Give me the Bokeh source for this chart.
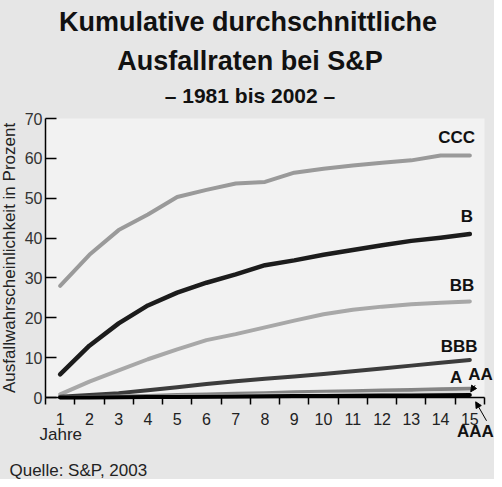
from bokeh.plotting import figure
from bokeh.models import Range1d, FixedTicker, Label, Arrow, NormalHead, BoxAnnotation
from bokeh.embed import file_html
from bokeh.resources import INLINE

# ---- data ----
years = list(range(1, 16))
ccc = [28.0, 35.8, 42.0, 45.9, 50.3, 52.1, 53.7, 54.1, 56.4, 57.4, 58.2, 58.9, 59.5, 60.7, 60.7]
b = [5.8, 13.0, 18.6, 23.1, 26.3, 28.8, 30.9, 33.2, 34.4, 35.8, 37.0, 38.2, 39.3, 40.1, 41.0]
bb = [0.8, 4.0, 6.8, 9.6, 12.1, 14.4, 15.9, 17.6, 19.3, 20.9, 22.0, 22.8, 23.4, 23.8, 24.1]
bbb = [0.2, 0.6, 1.1, 1.8, 2.6, 3.4, 4.1, 4.7, 5.3, 5.9, 6.6, 7.3, 8.0, 8.7, 9.4]
a = [0.05, 0.15, 0.25, 0.4, 0.6, 0.75, 0.95, 1.1, 1.3, 1.45, 1.6, 1.75, 1.9, 2.05, 2.2]
aa = [0.0, 0.05, 0.1, 0.2, 0.3, 0.4, 0.5, 0.6, 0.7, 0.8, 0.9, 1.0, 1.1, 1.25, 1.4]
aaa = [0.0, 0.0, 0.05, 0.1, 0.15, 0.2, 0.25, 0.3, 0.35, 0.4, 0.45, 0.5, 0.5, 0.55, 0.6]
y_ticks = [0, 10, 20, 30, 40, 50, 60, 70]
year_bounds = [0.5 + i for i in range(16)]

title1 = "Kumulative durchschnittliche"
title2 = "Ausfallraten bei S&P"
subtitle = "– 1981 bis 2002 –"
y_label = "Ausfallwahrscheinlichkeit in Prozent"
x_label = "Jahre"
source_note = "Quelle: S&P, 2003"

FONT = "Liberation Sans"
OUTER = "#e6e6e6"
INNER = "#f2f2f2"

# The frame spans the whole canvas; the axes sit at fixed data locations.
p = figure(width=499, height=483, output_backend="svg", toolbar_location=None,
           x_range=Range1d(-1.208, 15.842), y_range=Range1d(-20.57, 100.61),
           min_border=0, background_fill_color=OUTER, border_fill_color=OUTER,
           outline_line_color=None,
           styles={"margin-left": "-5px", "margin-top": "-4px"})
p.grid.visible = False

p.add_layout(BoxAnnotation(left=0.5, right=15.5, bottom=0, top=70, fill_color=INNER,
                           fill_alpha=1, line_color=None, level="underlay"))

# y axis
ya = p.yaxis[0]
ya.fixed_location = 0.5
ya.bounds = (0, 70)
ya.ticker = FixedTicker(ticks=y_ticks)
ya.major_tick_in = 11
ya.major_tick_out = 0
ya.minor_tick_line_color = None
ya.axis_line_width = 1.5
ya.axis_line_color = "black"
ya.major_tick_line_width = 1.5
ya.major_tick_line_color = "black"
ya.major_label_text_font = FONT
ya.major_label_text_font_size = "16px"
ya.major_label_text_color = "#333333"
ya.major_label_standoff = 3
ya.axis_label = y_label
ya.axis_label_text_font = FONT
ya.axis_label_text_font_size = "17px"
ya.axis_label_text_font_style = "normal"
ya.axis_label_text_color = "#222222"
ya.axis_label_standoff = 3

# x axis
xa = p.xaxis[0]
xa.fixed_location = 0
xa.bounds = (0.5, 15.5)
xa.ticker = FixedTicker(ticks=years, minor_ticks=year_bounds)
xa.major_tick_in = 0
xa.major_tick_out = 0
xa.major_tick_line_color = None
xa.minor_tick_in = 0
xa.minor_tick_out = 7
xa.minor_tick_line_color = "black"
xa.minor_tick_line_width = 1.5
xa.axis_line_width = 1.5
xa.axis_line_color = "black"
xa.major_label_text_font = FONT
xa.major_label_text_font_size = "16px"
xa.major_label_text_color = "#222222"
xa.major_label_standoff = 8

# series
series = [
    (ccc, "#9a9a9a", 4),
    (bb, "#a8a8a8", 4),
    (bbb, "#3c3c3c", 4),
    (b, "#1c1c1c", 4.5),
    (a, "#858585", 4),
    (aa, "#dadada", 3),
    (aaa, "#000000", 4),
]
for vals, col, w in series:
    p.line(years, vals, line_color=col, line_width=w, line_cap="round", line_join="round")

# series labels
lab_style = dict(text_font=FONT, text_font_size="17px", text_font_style="bold",
                 text_color="#111111", text_baseline="middle")
for txt, x, y, al in [("CCC", 15.18, 65.2, "right"), ("B", 15.11, 45.4, "right"),
                      ("BB", 15.15, 28.1, "right"), ("BBB", 15.26, 12.9, "right"),
                      ("A", 14.53, 5.0, "center"), ("AA", 15.363, 5.65, "center"),
                      ("AAA", 15.19, -8.53, "center")]:
    p.add_layout(Label(x=x, y=y, text=txt, text_align=al, **lab_style))

head = dict(size=6, fill_color="black", line_color="black", line_width=1)
p.add_layout(Arrow(end=NormalHead(**head), x_start=15.18, y_start=3.08, x_end=15.03, y_end=1.43,
                   line_width=1, line_color="black"))
p.add_layout(Arrow(end=NormalHead(**head), x_start=15.57, y_start=-5.84, x_end=15.2, y_end=-1.08,
                   line_width=1, line_color="black"))

# titles and notes
p.add_layout(Label(x=7.419, y=94.09, text=title1, text_align="center", text_baseline="middle",
                   text_font=FONT, text_font_size="27px", text_font_style="bold", text_color="#111111"))
p.add_layout(Label(x=7.487, y=84.55, text=title2, text_align="center", text_baseline="middle",
                   text_font=FONT, text_font_size="27px", text_font_style="bold", text_color="#111111"))
p.add_layout(Label(x=7.487, y=75.77, text=subtitle, text_align="center", text_baseline="middle",
                   text_font=FONT, text_font_size="21px", text_font_style="bold", text_color="#111111"))
p.add_layout(Label(x=0.295, y=-9.28, text=x_label, text_align="left", text_baseline="middle",
                   text_font=FONT, text_font_size="17px", text_color="#222222"))
p.add_layout(Label(x=-0.730, y=-18.32, text=source_note, text_align="left", text_baseline="middle",
                   text_font=FONT, text_font_size="17px", text_color="#222222"))

open("out.html", "w").write(file_html(p, INLINE))
